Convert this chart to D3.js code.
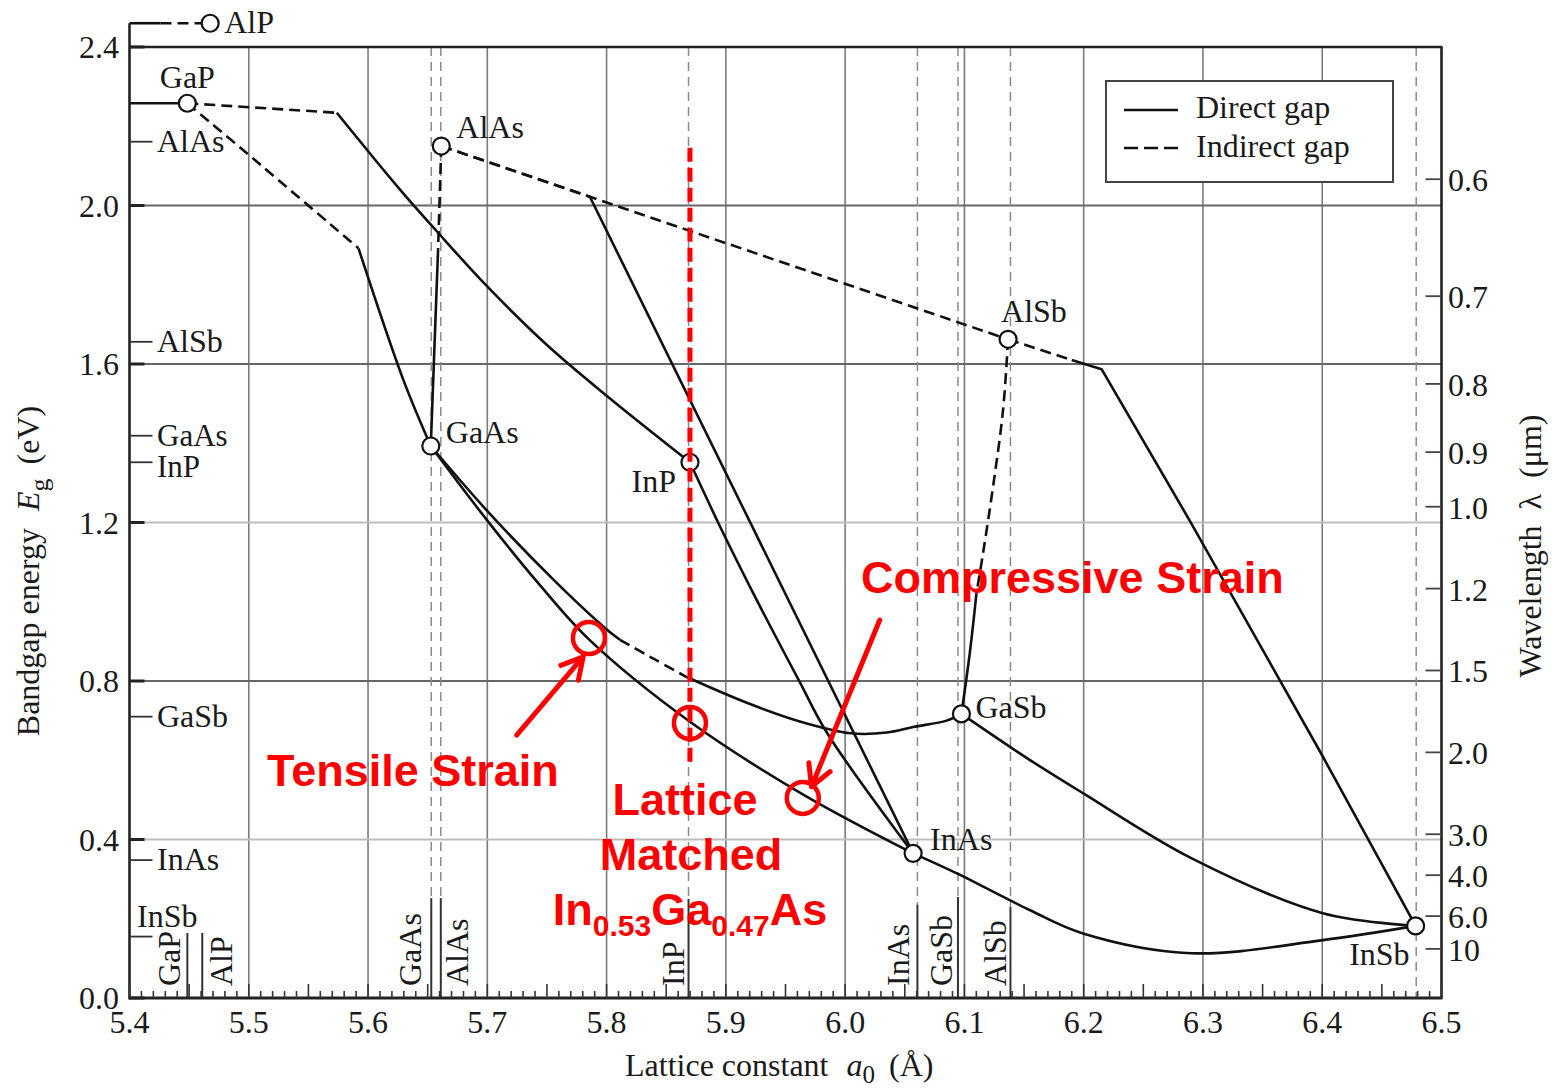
<!DOCTYPE html>
<html><head><meta charset="utf-8">
<script src="https://cdn.jsdelivr.net/npm/d3@7"></script>
<style>body{margin:0;background:#fff}svg{display:block}</style>
</head><body>
<svg id="c" width="1552" height="1091"></svg>
<script>
// ---------- axis data ----------
const xMajor = [5.4,5.5,5.6,5.7,5.8,5.9,6.0,6.1,6.2,6.3,6.4,6.5];
const xMajorLabels = ["5.4","5.5","5.6","5.7","5.8","5.9","6.0","6.1","6.2","6.3","6.4","6.5"];
const yMajor = [0,0.4,0.8,1.2,1.6,2.0,2.4];
const yMajorLabels = ["0.0","0.4","0.8","1.2","1.6","2.0","2.4"];
const wlTicks = [0.6,0.7,0.8,0.9,1.0,1.2,1.5,2.0,3.0,4.0,6.0,10];
const wlLabels = ["0.6","0.7","0.8","0.9","1.0","1.2","1.5","2.0","3.0","4.0","6.0","10"];

// ---------- binary compounds (circles) ----------
const compounds = ["AlP","GaP","AlAs","GaAs","InP","AlSb","GaSb","InAs","InSb"];
const latticeA  = [5.4676,5.4485,5.6614,5.6526,5.8699,6.1366,6.0975,6.0570,6.4783];
const gapE      = [2.46,2.258,2.15,1.393,1.352,1.6623,0.717,0.365,0.182];

// left-axis compound markers
const leftNames = ["AlAs","AlSb","GaAs","InP","GaSb","InAs","InSb"];
const leftE     = [2.161,1.656,1.419,1.352,0.710,0.348,0.155];

// bottom-axis compound markers
const bottomNames    = ["GaP","AlP","GaAs","AlAs","InP","InAs","GaSb","AlSb","InSb"];
const bottomA        = [5.4485,5.461,5.653,5.661,5.8687,6.0606,6.0946,6.1386,6.4788];
const bottomSolidTop = [0.164,0.164,0.252,0.252,0.25,0.235,0.255,0.23,0];

// ---------- ternary alloy curves [a0, Eg] ----------
const AlP_tick   = [[5.4,2.46],[5.426,2.46]];
const AlP_ind    = [[5.426,2.46],[5.4676,2.46]];
const GaP_tick   = [[5.4,2.258],[5.4485,2.258]];
const GaInP_ind  = [[5.4485,2.258],[5.5738,2.234]];
const GaInP_dir  = [[5.5738,2.234],[5.6268,2.04],[5.6576,1.935],[5.6995,1.797],[5.75,1.648],[5.80,1.520],[5.8699,1.352]];
const GaAsP_ind  = [[5.4485,2.258],[5.4984,2.132],[5.592,1.892]];
const GaAsP_dir  = [[5.592,1.892],[5.6296,1.56],[5.6526,1.393]];
const AlGaAs_ind = [[5.6614,2.15],[5.6587,1.888]];
const AlGaAs_dir = [[5.6587,1.888],[5.6526,1.393]];
const AlAsSb_ind = [[5.6614,2.15],[5.786,2.022],[6.1366,1.6623]];
const AlInAs_ind = [[5.6614,2.15],[5.786,2.022]];
const AlInAs_dir = [[5.786,2.022],[6.057,0.365]];
const AlGaSb_ind = [[6.1366,1.6623],[6.1324,1.484],[6.124,1.29],[6.1156,1.122],[6.1101,1.021]];
const AlGaSb_dir = [[6.1101,1.021],[6.1045,0.87],[6.0975,0.717]];
const AlInSb_ind = [[6.1366,1.6623],[6.19,1.61]];
const AlInSb_dir = [[6.19,1.61],[6.215,1.587],[6.2902,1.198],[6.40,0.612],[6.4783,0.182]];
const GaAsSb_dir1= [[5.6526,1.393],[5.6997,1.23],[5.755,1.057],[5.7986,0.934],[5.8112,0.904]];
const GaAsSb_ind = [[5.8112,0.904],[5.84,0.855],[5.8671,0.81]];
const GaAsSb_dir2= [[5.8671,0.81],[5.9176,0.745],[5.962,0.698],[6.005,0.668],[6.035,0.670],[6.057,0.684],[6.085,0.700],[6.0975,0.717]];
const GaInAs_dir = [[5.6526,1.393],[5.6997,1.206],[5.7441,1.042],[5.7852,0.905],[5.8699,0.697],[5.9645,0.514],[6.057,0.365]];
const InAsP_dir  = [[5.8699,1.352],[5.8951,1.19],[5.9244,1.013],[5.962,0.797],[5.985,0.668],[6.057,0.365]];
const InAsSb_dir = [[6.057,0.365],[6.0933,0.315],[6.1547,0.222],[6.1994,0.163],[6.2902,0.113],[6.4005,0.146],[6.4783,0.182]];
const GaInSb_dir = [[6.0975,0.717],[6.1547,0.601],[6.1994,0.517],[6.2902,0.353],[6.4005,0.214],[6.4783,0.182]];

// ---------- red annotations ----------
const strainCircles = [[5.7852,0.9085],[5.8699,0.694],[5.9645,0.505]];
const matchLine = [[5.8699,0.596],[5.8699,2.148]];
const tensileArrow = [[5.7246,0.6637],[5.7804,0.8613]];
const compressArrow = [[6.029,0.954],[5.9718,0.5333]];

// ---------- build chart ----------
const svg = d3.select("#c");
const x = d3.scaleLinear().domain([5.4,6.5]).range([129.5,1441.5]);
const y = d3.scaleLinear().domain([0,2.4]).range([998,47]);
const serif = "'Liberation Serif','Times New Roman',serif";
const sans = "'Liberation Sans',Arial,sans-serif";
const ink = "#1a1a1a";
const FS = 32;

// gridlines
const gGrid = svg.append("g");
gGrid.selectAll("line.v").data(xMajor.slice(1,-1)).join("line")
  .attr("x1",d=>x(d)).attr("x2",d=>x(d)).attr("y1",y(2.4)).attr("y2",y(0))
  .attr("stroke","#7a7a7a").attr("stroke-width",1.6);
const lightGrid = new Set([0.4,1.2]);
gGrid.selectAll("line.h").data(yMajor.slice(1,-1)).join("line")
  .attr("x1",x(5.4)).attr("x2",x(6.5)).attr("y1",d=>y(d)).attr("y2",d=>y(d))
  .attr("stroke",d=>lightGrid.has(d)?"#bdbdbd":"#666").attr("stroke-width",1.8);

// compound vertical markers (dashed above, solid near bottom)
const gMark = svg.append("g");
bottomNames.forEach((n,i)=>{
  const xa = x(bottomA[i]);
  if (n!=="GaP" && n!=="AlP") {
    gMark.append("line").attr("x1",xa).attr("x2",xa)
      .attr("y1",y(2.4)).attr("y2",y(bottomSolidTop[i] || 0))
      .attr("stroke","#8a8a8a").attr("stroke-width",1.5).attr("stroke-dasharray","9,6");
  }
  if (bottomSolidTop[i] > 0) {
    gMark.append("line").attr("x1",xa).attr("x2",xa)
      .attr("y1",y(bottomSolidTop[i])).attr("y2",y(0))
      .attr("stroke","#333").attr("stroke-width",2);
  }
});
// rotated bottom labels
const bottomDx = {GaP:-7,AlP:30,GaAs:-10,AlAs:27,InP:-5,InAs:-8,GaSb:-6,AlSb:-4};
bottomNames.forEach((n,i)=>{
  if (!(n in bottomDx)) return;
  gMark.append("text")
    .attr("transform",`translate(${x(bottomA[i])+bottomDx[n]},986) rotate(-90)`)
    .attr("font-family",serif).attr("font-size",FS).attr("fill",ink).text(n);
});

// curves
const line = d3.line().x(d=>x(d[0])).y(d=>y(d[1])).curve(d3.curveCatmullRom.alpha(0.5));
const lineLin = d3.line().x(d=>x(d[0])).y(d=>y(d[1]));
const segments = [
  [AlP_tick,false,true],[AlP_ind,true,true],[GaP_tick,false,true],
  [GaInP_ind,true,true],[GaInP_dir,false,false],
  [GaAsP_ind,true,false],[GaAsP_dir,false,false],
  [AlGaAs_ind,true,true],[AlGaAs_dir,false,true],
  [AlAsSb_ind,true,true],[AlInAs_ind,true,true],[AlInAs_dir,false,true],
  [AlGaSb_ind,true,false],[AlGaSb_dir,false,false],
  [AlInSb_ind,true,true],[AlInSb_dir,false,true],
  [GaAsSb_dir1,false,false],[GaAsSb_ind,true,false],[GaAsSb_dir2,false,false],
  [GaInAs_dir,false,false],[InAsP_dir,false,false],
  [InAsSb_dir,false,false],[GaInSb_dir,false,false]
];
const gCurves = svg.append("g");
segments.forEach(([pts,dashed,linear])=>{
  gCurves.append("path").attr("d",(linear?lineLin:line)(pts))
    .attr("fill","none").attr("stroke","#111").attr("stroke-width",2.6)
    .attr("stroke-dasharray",dashed?"11,6":null).attr("stroke-linejoin","round");
});

// axes frame
const gAx = svg.append("g");
gAx.append("line").attr("x1",x(5.4)).attr("x2",x(5.4)).attr("y1",y(2.46)).attr("y2",y(0)+1.5)
  .attr("stroke","#222").attr("stroke-width",2.6);
gAx.append("line").attr("x1",x(5.4)).attr("x2",x(6.5)+1).attr("y1",y(0)).attr("y2",y(0))
  .attr("stroke","#222").attr("stroke-width",3);
gAx.append("line").attr("x1",x(5.4)).attr("x2",x(6.5)+1).attr("y1",y(2.4)).attr("y2",y(2.4))
  .attr("stroke","#222").attr("stroke-width",2.6);
gAx.append("line").attr("x1",x(6.5)).attr("x2",x(6.5)).attr("y1",y(2.4)).attr("y2",y(0))
  .attr("stroke","#222").attr("stroke-width",2.6);

// x minor ticks
const minor = d3.range(0,111).map(i=>+(5.4+i*0.01).toFixed(2));
gAx.selectAll("line.mt").data(minor).join("line")
  .attr("x1",d=>x(d)).attr("x2",d=>x(d)).attr("y1",y(0))
  .attr("y2",(d,i)=> y(0) - (i%5===0 ? 14 : 7))
  .attr("stroke","#333").attr("stroke-width",1.6);
// x labels
gAx.selectAll("text.xl").data(xMajor).join("text")
  .attr("x",d=>x(d)).attr("y",1033).attr("text-anchor","middle")
  .attr("font-family",serif).attr("font-size",FS).attr("fill",ink)
  .text((d,i)=>xMajorLabels[i]);
// y major ticks & labels
gAx.selectAll("line.yt").data(yMajor).join("line")
  .attr("x1",x(5.4)).attr("x2",x(5.4)+15).attr("y1",d=>y(d)).attr("y2",d=>y(d))
  .attr("stroke","#222").attr("stroke-width",3);
gAx.selectAll("text.yl").data(yMajor).join("text")
  .attr("x",119).attr("y",d=>y(d)+11).attr("text-anchor","end")
  .attr("font-family",serif).attr("font-size",FS).attr("fill",ink)
  .text((d,i)=>yMajorLabels[i]);
// left compound ticks
leftNames.forEach((n,i)=>{
  const yy = y(leftE[i]);
  gAx.append("line").attr("x1",x(5.4)).attr("x2",x(5.4)+23).attr("y1",yy).attr("y2",yy)
    .attr("stroke","#333").attr("stroke-width",1.8);
  const isInSb = n==="InSb";
  gAx.append("text").attr("x",isInSb?137:157).attr("y",isInSb?yy-10:yy+(n==="InP"?15:10))
    .attr("font-family",serif).attr("font-size",n==="InP"||n==="GaAs"?31:FS).attr("fill",ink).text(n);
});
// right wavelength axis
wlTicks.forEach((w,i)=>{
  const yy = y(1.2398/w);
  gAx.append("line").attr("x1",x(6.5)-16).attr("x2",x(6.5)).attr("y1",yy).attr("y2",yy)
    .attr("stroke","#444").attr("stroke-width",1.8);
  gAx.append("text").attr("x",1448).attr("y",yy+12)
    .attr("font-family",serif).attr("font-size",FS).attr("fill",ink).text(wlLabels[i]);
});

// axis titles
const xt = svg.append("text").attr("x",625).attr("y",1076)
  .attr("font-family",serif).attr("font-size",FS).attr("fill",ink);
xt.append("tspan").text("Lattice constant");
xt.append("tspan").attr("dx",18).attr("font-style","italic").text("a");
xt.append("tspan").attr("dy",7).attr("font-size",25).text("0");
xt.append("tspan").attr("dy",-7).attr("dx",14).text("(Å)");

const yt = svg.append("text").attr("transform","translate(39,571) rotate(-90)")
  .attr("text-anchor","middle").attr("font-family",serif).attr("font-size",FS).attr("fill",ink);
yt.append("tspan").text("Bandgap energy");
yt.append("tspan").attr("dx",17).attr("font-style","italic").text("E");
yt.append("tspan").attr("dy",9).attr("font-size",26).text("g");
yt.append("tspan").attr("dy",-9).attr("dx",14).text("(eV)");

const rt = svg.append("text").attr("transform","translate(1541,546) rotate(-90)")
  .attr("text-anchor","middle").attr("font-family",serif).attr("font-size",FS).attr("fill",ink);
rt.append("tspan").text("Wavelength");
rt.append("tspan").attr("dx",16).text("λ");
rt.append("tspan").attr("dx",16).text("(μm)");

// compound circles + labels
const labelPos = {
  AlP:[14,10,"start"], GaP:[0,-15,"middle"], AlAs:[15,-8,"start"], GaAs:[15,-3,"start"],
  InP:[-14,30,"end"], AlSb:[-7,-17,"start"], GaSb:[14,4,"start"], InAs:[17,-3,"start"], InSb:[-6,39,"end"]
};
const gC = svg.append("g");
compounds.forEach((n,i)=>{
  const cx = x(latticeA[i]), cy = y(gapE[i]);
  gC.append("circle").attr("cx",cx).attr("cy",cy).attr("r",8.5)
    .attr("fill","#fff").attr("stroke","#111").attr("stroke-width",2.2);
  const [dx,dy,anc] = labelPos[n];
  gC.append("text").attr("x",cx+dx).attr("y",cy+dy).attr("text-anchor",anc)
    .attr("font-family",serif).attr("font-size",FS).attr("fill",ink).text(n);
});

// legend
const lg = svg.append("g");
lg.append("rect").attr("x",1106).attr("y",81).attr("width",287).attr("height",101)
  .attr("fill","#fff").attr("stroke","#444").attr("stroke-width",2);
lg.append("line").attr("x1",1124).attr("x2",1178).attr("y1",110).attr("y2",110)
  .attr("stroke","#111").attr("stroke-width",2.6);
lg.append("line").attr("x1",1124).attr("x2",1178).attr("y1",148).attr("y2",148)
  .attr("stroke","#111").attr("stroke-width",2.6).attr("stroke-dasharray","14,6");
lg.append("text").attr("x",1196).attr("y",118).attr("font-family",serif).attr("font-size",FS).attr("fill",ink).text("Direct gap");
lg.append("text").attr("x",1196).attr("y",157).attr("font-family",serif).attr("font-size",FS).attr("fill",ink).text("Indirect gap");

// ---------- red annotations ----------
const red = "#ff0000";
const ga = svg.append("g");
ga.append("line").attr("x1",x(matchLine[0][0])).attr("x2",x(matchLine[1][0]))
  .attr("y1",y(matchLine[0][1])).attr("y2",y(matchLine[1][1]))
  .attr("stroke",red).attr("stroke-width",5).attr("stroke-dasharray","14,6");
ga.selectAll("circle.s").data(strainCircles).join("circle")
  .attr("cx",d=>x(d[0])).attr("cy",d=>y(d[1])).attr("r",16)
  .attr("fill","none").attr("stroke",red).attr("stroke-width",4.5);
function arrow(pts){
  const x0=x(pts[0][0]), y0=y(pts[0][1]), x1=x(pts[1][0]), y1=y(pts[1][1]);
  const ang = Math.atan2(y0-y1, x0-x1), L=24, s=0.5;
  const a1=[x1+L*Math.cos(ang+s), y1+L*Math.sin(ang+s)];
  const a2=[x1+L*Math.cos(ang-s), y1+L*Math.sin(ang-s)];
  ga.append("path").attr("d",`M${x0},${y0}L${x1},${y1}M${a1[0]},${a1[1]}L${x1},${y1}L${a2[0]},${a2[1]}`)
    .attr("fill","none").attr("stroke",red).attr("stroke-width",5)
    .attr("stroke-linecap","round").attr("stroke-linejoin","round");
}
arrow(tensileArrow);
arrow(compressArrow);
const rtxt = (tx,ty,anc)=> ga.append("text").attr("x",tx).attr("y",ty).attr("text-anchor",anc)
  .attr("font-family",sans).attr("font-weight","bold").attr("font-size",45).attr("fill",red);
rtxt(267,786,"start").text("Tensile Strain");
rtxt(861,593,"start").text("Compressive Strain");
rtxt(685,815,"middle").text("Lattice");
rtxt(691,870,"middle").text("Matched");
const ig = rtxt(690,925,"middle");
ig.append("tspan").text("In");
ig.append("tspan").attr("dy",11).attr("font-size",30).text("0.53");
ig.append("tspan").attr("dy",-11).text("Ga");
ig.append("tspan").attr("dy",11).attr("font-size",30).text("0.47");
ig.append("tspan").attr("dy",-11).text("As");
</script>
</body></html>
